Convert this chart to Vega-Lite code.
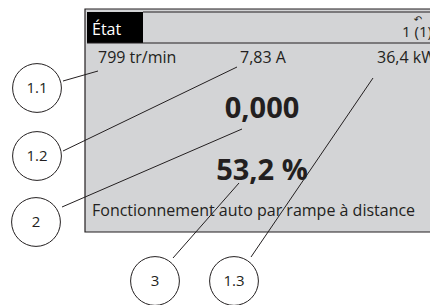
{
  "$schema": "https://vega.github.io/schema/vega-lite/v6.json",
  "width": 430,
  "height": 305,
  "padding": 0,
  "autosize": {"type": "none"},
  "background": "white",
  "config": {"view": {"stroke": null}, "font": "Open Sans"},
  "datasets": {
    "boxes": [
      {"part": "panel", "x": 85, "x2": 445, "y": 9, "y2": 232},
      {"part": "header", "x": 87, "x2": 143, "y": 12, "y2": 43}
    ],
    "lines": [
      {"part": "top inner", "x": 143, "y": 12, "x2": 445, "y2": 12},
      {"part": "header rule", "x": 87, "y": 43, "x2": 445, "y2": 43},
      {"part": "1.1", "x": 63, "y": 81, "x2": 98, "y2": 71},
      {"part": "1.2", "x": 63, "y": 151, "x2": 237, "y2": 67},
      {"part": "2", "x": 62, "y": 207, "x2": 242, "y2": 129},
      {"part": "3", "x": 173, "y": 258, "x2": 239, "y2": 183},
      {"part": "1.3", "x": 251, "y": 257, "x2": 373, "y2": 78}
    ],
    "circles": [
      {"label": "1.1", "x": 37, "y": 88},
      {"label": "1.2", "x": 37, "y": 156},
      {"label": "2", "x": 36, "y": 222},
      {"label": "3", "x": 155, "y": 281},
      {"label": "1.3", "x": 234, "y": 281}
    ],
    "texts": [
      {"role": "header", "label": "État", "x": 92, "y": 35},
      {"role": "small", "label": "1 (1)", "x": 402, "y": 37},
      {"role": "value", "label": "799 tr/min", "x": 98, "y": 63},
      {"role": "value", "label": "7,83 A", "x": 240, "y": 63},
      {"role": "value", "label": "36,4 kW", "x": 377, "y": 63},
      {"role": "big", "label": "0,000", "x": 262, "y": 118},
      {"role": "big", "label": "53,2 %", "x": 262, "y": 180},
      {"role": "value", "label": "Fonctionnement auto par rampe à distance", "x": 92, "y": 216}
    ],
    "icons": [
      {"label": "↶", "x": 418, "y": 20}
    ]
  },
  "layer": [
    {
      "data": {"name": "boxes"},
      "transform": [{"filter": "datum.part === 'panel'"}],
      "mark": {"type": "rect", "fill": "#d3d4d6", "stroke": "#231f20", "strokeWidth": 1.2},
      "encoding": {
        "x": {"field": "x", "type": "quantitative", "scale": {"domain": [0, 430], "nice": false, "zero": false}, "axis": null},
        "x2": {"field": "x2"},
        "y": {"field": "y", "type": "quantitative", "scale": {"domain": [0, 305], "nice": false, "zero": false, "reverse": true}, "axis": null},
        "y2": {"field": "y2"}
      }
    },
    {
      "data": {"name": "boxes"},
      "transform": [{"filter": "datum.part === 'header'"}],
      "mark": {"type": "rect", "fill": "#000000"},
      "encoding": {
        "x": {"field": "x", "type": "quantitative", "axis": null},
        "x2": {"field": "x2"},
        "y": {"field": "y", "type": "quantitative", "axis": null},
        "y2": {"field": "y2"}
      }
    },
    {
      "data": {"name": "lines"},
      "mark": {"type": "rule", "stroke": "#231f20", "strokeWidth": 1},
      "encoding": {
        "x": {"field": "x", "type": "quantitative", "axis": null},
        "x2": {"field": "x2"},
        "y": {"field": "y", "type": "quantitative", "axis": null},
        "y2": {"field": "y2"}
      }
    },
    {
      "data": {"name": "circles"},
      "mark": {"type": "point", "shape": "circle", "size": 2380, "filled": true, "fill": "white", "stroke": "#231f20", "strokeWidth": 1, "opacity": 1},
      "encoding": {
        "x": {"field": "x", "type": "quantitative", "axis": null},
        "y": {"field": "y", "type": "quantitative", "axis": null}
      }
    },
    {
      "data": {"name": "circles"},
      "mark": {"type": "text", "fontSize": 15, "color": "#231f20", "align": "center", "baseline": "middle"},
      "encoding": {
        "x": {"field": "x", "type": "quantitative", "axis": null},
        "y": {"field": "y", "type": "quantitative", "axis": null},
        "text": {"field": "label"}
      }
    },
    {
      "data": {"name": "texts"},
      "transform": [{"filter": "datum.role === 'header'"}],
      "mark": {"type": "text", "fontSize": 16, "color": "white", "align": "left", "baseline": "alphabetic"},
      "encoding": {
        "x": {"field": "x", "type": "quantitative", "axis": null},
        "y": {"field": "y", "type": "quantitative", "axis": null},
        "text": {"field": "label"}
      }
    },
    {
      "data": {"name": "texts"},
      "transform": [{"filter": "datum.role === 'small'"}],
      "mark": {"type": "text", "fontSize": 15, "color": "#231f20", "align": "left", "baseline": "alphabetic"},
      "encoding": {
        "x": {"field": "x", "type": "quantitative", "axis": null},
        "y": {"field": "y", "type": "quantitative", "axis": null},
        "text": {"field": "label"}
      }
    },
    {
      "data": {"name": "texts"},
      "transform": [{"filter": "datum.role === 'value'"}],
      "mark": {"type": "text", "fontSize": 16, "color": "#231f20", "align": "left", "baseline": "alphabetic"},
      "encoding": {
        "x": {"field": "x", "type": "quantitative", "axis": null},
        "y": {"field": "y", "type": "quantitative", "axis": null},
        "text": {"field": "label"}
      }
    },
    {
      "data": {"name": "texts"},
      "transform": [{"filter": "datum.role === 'big'"}],
      "mark": {"type": "text", "fontSize": 29, "fontWeight": "bold", "color": "#231f20", "align": "center", "baseline": "alphabetic"},
      "encoding": {
        "x": {"field": "x", "type": "quantitative", "axis": null},
        "y": {"field": "y", "type": "quantitative", "axis": null},
        "text": {"field": "label"}
      }
    },
    {
      "data": {"name": "icons"},
      "mark": {"type": "text", "font": "DejaVu Sans", "fontSize": 10, "color": "#231f20", "align": "center", "baseline": "middle"},
      "encoding": {
        "x": {"field": "x", "type": "quantitative", "axis": null},
        "y": {"field": "y", "type": "quantitative", "axis": null},
        "text": {"field": "label"}
      }
    }
  ]
}
